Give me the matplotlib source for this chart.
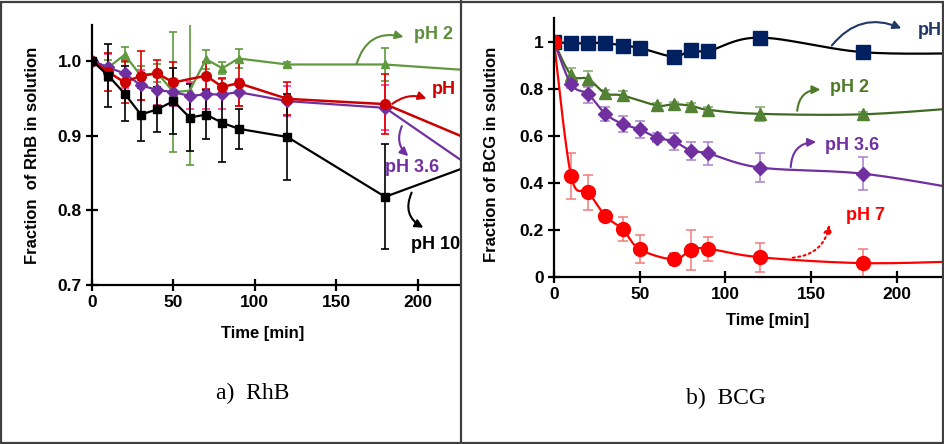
import numpy as np
import matplotlib.pyplot as plt
from matplotlib.patches import Rectangle
from matplotlib.lines import Line2D

plt.rcParams['font.family'] = ['Liberation Sans', 'DejaVu Sans']

# ---------------- RhB (left panel) ----------------
t_rhb = [0, 10, 20, 30, 40, 50, 60, 70, 80, 90, 120, 180, 240]
rhb_ph10 = [1.0, 0.980, 0.956, 0.928, 0.935, 0.946, 0.924, 0.928, 0.917, 0.909, 0.898, 0.818, 0.866]
rhb_ph10_err = [0, 0.042, 0.037, 0.036, 0.030, 0.044, 0.045, 0.033, 0.052, 0.027, 0.057, 0.070, 0]
rhb_ph2 = [1.0, 0.991, 1.008, 0.980, 0.984, 0.958, 0.960, 1.002, 0.990, 1.003, 0.995, 0.995, 0.986]
rhb_ph2_err = [0, 0.010, 0.010, 0.013, 0.012, 0.080, 0.100, 0.013, 0.008, 0.013, 0.003, 0.022, 0]
t_rhb_red = [0, 10, 20, 30, 40, 50, 70, 80, 90, 120, 180, 240]
rhb_ph = [1.0, 0.985, 0.971, 0.980, 0.983, 0.971, 0.980, 0.965, 0.970, 0.949, 0.942, 0.887]
rhb_ph_err = [0, 0.025, 0.028, 0.033, 0.018, 0.027, 0.018, 0.012, 0.030, 0.022, 0.040, 0]
rhb_ph36 = [1.0, 0.991, 0.983, 0.967, 0.961, 0.958, 0.953, 0.955, 0.955, 0.958, 0.946, 0.937, 0.847]
rhb_ph36_err = [0, 0.018, 0.020, 0.020, 0.020, 0.018, 0.018, 0.020, 0.020, 0.018, 0.020, 0.030, 0]

# ---------------- BCG (right panel) ----------------
t_blue = [0, 10, 20, 30, 40, 50, 70, 80, 90, 120, 180, 240]
bcg_ph = [1.0, 0.992, 0.994, 0.994, 0.983, 0.973, 0.936, 0.965, 0.960, 1.017, 0.955, 0.950]
t_green = [0, 10, 20, 30, 40, 60, 70, 80, 90, 120, 180, 240]
bcg_ph2 = [1.0, 0.858, 0.841, 0.780, 0.771, 0.729, 0.734, 0.727, 0.710, 0.693, 0.691, 0.720]
bcg_ph2_err = [0, 0.030, 0.035, 0.015, 0.020, 0.010, 0.010, 0.010, 0.010, 0.030, 0.010, 0]
t_purple = [0, 10, 20, 30, 40, 50, 60, 70, 80, 90, 120, 180, 240]
bcg_ph36 = [1.0, 0.819, 0.776, 0.693, 0.650, 0.627, 0.592, 0.576, 0.535, 0.525, 0.465, 0.439, 0.370]
bcg_ph36_err = [0, 0.015, 0.035, 0.030, 0.035, 0.035, 0.020, 0.035, 0.040, 0.050, 0.060, 0.070, 0]
t_red = [0, 10, 20, 30, 40, 50, 70, 80, 90, 120, 180, 240]
bcg_ph7 = [1.0, 0.429, 0.360, 0.259, 0.203, 0.118, 0.075, 0.116, 0.120, 0.084, 0.059, 0.067]
bcg_ph7_err = [0, 0.097, 0.075, 0, 0.050, 0.060, 0.025, 0.085, 0.050, 0.062, 0.062, 0]


def smooth(x, y, n=25):
    # Bezier smoothing like a spreadsheet "smoothed line"
    p = np.column_stack([x, y]).astype(float)
    p = np.vstack([p[0], p, p[-1]])
    segs = []
    t = np.linspace(0, 1, n)[:, None]
    for i in range(1, len(p) - 2):
        p0, p1, p2, p3 = p[i - 1], p[i], p[i + 1], p[i + 2]
        c1 = p1 + (p2 - p0) / 6
        c2 = p2 - (p3 - p1) / 6
        segs.append((1 - t) ** 3 * p1 + 3 * (1 - t) ** 2 * t * c1
                    + 3 * (1 - t) * t ** 2 * c2 + t ** 3 * p2)
    s = np.vstack(segs)
    return s[:, 0], s[:, 1]


fig = plt.figure(figsize=(9.45, 4.44), dpi=100)

# ---------- left ----------
ax1 = fig.add_axes([0.0974, 0.358, 0.3894, 0.586])
green_l, red_l, purple_l = '#5f9a3e', '#cc0000', '#7030a0'

ax1.errorbar(t_rhb[1:-1], rhb_ph2[1:-1], yerr=rhb_ph2_err[1:-1], fmt='none',
             ecolor=green_l, elinewidth=1.2, capsize=3, capthick=1.2)
ax1.errorbar(t_rhb[1:-1], rhb_ph36[1:-1], yerr=rhb_ph36_err[1:-1], fmt='none',
             ecolor='#ff3399', elinewidth=1.2, capsize=3, capthick=1.2)
ax1.errorbar(t_rhb_red[1:-1], rhb_ph[1:-1], yerr=rhb_ph_err[1:-1], fmt='none',
             ecolor='#e00000', elinewidth=1.2, capsize=3, capthick=1.2)
ax1.errorbar(t_rhb[1:-1], rhb_ph10[1:-1], yerr=rhb_ph10_err[1:-1], fmt='none',
             ecolor='black', elinewidth=1.2, capsize=3, capthick=1.2)

ax1.plot(t_rhb, rhb_ph2, color=green_l, lw=1.6, marker='^', ms=6)
ax1.plot(t_rhb, rhb_ph36, color=purple_l, lw=1.6, marker='D', ms=6)
ax1.plot(t_rhb_red, rhb_ph, color=red_l, lw=1.8, marker='o', ms=7)
ax1.plot(t_rhb, rhb_ph10, color='black', lw=1.6, marker='s', ms=6)

ax1.set_xlim(0, 226)
ax1.set_ylim(0.7, 1.048)
ax1.set_xticks([0, 50, 100, 150, 200])
ax1.set_yticks([0.7, 0.8, 0.9, 1.0])
ax1.set_yticklabels(['0.7', '0.8', '0.9', '1.0'])

# ---------- right ----------
ax2 = fig.add_axes([0.5862, 0.3761, 0.4138, 0.5833])
navy, green_r, purple_r, red_r = '#002060', '#548235', '#7030a0', '#ff0000'

ax2.errorbar(t_green[1:-1], bcg_ph2[1:-1], yerr=bcg_ph2_err[1:-1], fmt='none',
             ecolor='#7fa865', elinewidth=1.1, capsize=3.5, capthick=1.1)
ax2.errorbar(t_purple[1:-1], bcg_ph36[1:-1], yerr=bcg_ph36_err[1:-1], fmt='none',
             ecolor='#a880cc', elinewidth=1.1, capsize=3.5, capthick=1.1)
ax2.errorbar(t_red[1:-1], bcg_ph7[1:-1], yerr=bcg_ph7_err[1:-1], fmt='none',
             ecolor='#f07a7a', elinewidth=1.1, capsize=3.5, capthick=1.1)

for tt, yy, c, m, ms, lc in [
        (t_blue, bcg_ph, navy, 's', 10, 'black'),
        (t_green, bcg_ph2, green_r, '^', 9, '#3f6b22'),
        (t_purple, bcg_ph36, purple_r, 'D', 7, purple_r),
        (t_red, bcg_ph7, red_r, 'o', 10, red_r)]:
    sx, sy = smooth(tt, yy)
    ax2.plot(sx, sy, color=lc, lw=1.6)
    ax2.plot(tt, yy, ls='none', marker=m, ms=ms, color=c)

ax2.set_xlim(0, 228)
ax2.set_ylim(0, 1.1)
ax2.set_xticks([0, 50, 100, 150, 200])
ax2.set_yticks([0, 0.2, 0.4, 0.6, 0.8, 1.0])
ax2.set_yticklabels(['0', '0.2', '0.4', '0.6', '0.8', '1'])

for ax in (ax1, ax2):
    ax.spines['top'].set_visible(False)
    ax.spines['right'].set_visible(False)
    for s in ('left', 'bottom'):
        ax.spines[s].set_linewidth(1.6)
    ax.tick_params(direction='inout', length=8, width=1.6, labelsize=12.5)
    for lab in ax.get_xticklabels() + ax.get_yticklabels():
        lab.set_fontweight('bold')

# axis titles
fig.text(263 / 945, 1 - 333 / 444, 'Time [min]', ha='center', va='center',
         fontsize=12, fontweight='bold')
fig.text(768 / 945, 1 - 320 / 444, 'Time [min]', ha='center', va='center',
         fontsize=12, fontweight='bold')
fig.text(33 / 945, 1 - 155 / 444, 'Fraction  of RhB in solution', rotation=90,
         ha='center', va='center', fontsize=12, fontweight='bold')
fig.text(492 / 945, 1 - 154 / 444, 'Fraction of BCG in solution', rotation=90,
         ha='center', va='center', fontsize=12, fontweight='bold')

# curved arrows with labels
def label(ax, text, xy_tail, xy_head, xy_text, color, rad, ls='-'):
    ax.annotate('', xy=xy_head, xytext=xy_tail, annotation_clip=False,
                arrowprops=dict(arrowstyle='-|>', color=color, lw=1.5, ls=ls,
                                connectionstyle=f'arc3,rad={rad}',
                                mutation_scale=12))
    ax.text(xy_text[0], xy_text[1], text, color=color, fontsize=13,
            fontweight='bold', va='center', ha='left', clip_on=False)

label(ax1, 'pH 2', (162, 0.992), (193, 1.031), (198, 1.035), '#5e8f3c', -0.5)
label(ax1, 'pH', (183, 0.940), (207, 0.948), (208.6, 0.961), '#cc0000', -0.3)
label(ax1, 'pH 3.6', (191, 0.916), (195.5, 0.870), (180, 0.857), '#7030a0', 0.4)
label(ax1, 'pH 10', (197, 0.827), (205, 0.775), (196, 0.754), 'black', 0.5)

label(ax2, 'pH', (161, 0.974), (204, 1.051), (212, 1.047), '#1f3864', -0.4)
label(ax2, 'pH 2', (141.7, 0.694), (157, 0.796), (161, 0.804), '#4f7a28', -0.5)
label(ax2, 'pH 3.6', (138, 0.455), (154.5, 0.574), (158, 0.557), '#7030a0', -0.5)
label(ax2, 'pH 7', (137.6, 0.081), (161, 0.234), (170, 0.26), '#ff0000', 0.4, ls=':')

# captions
fig.text(253 / 945, 1 - 393 / 444, 'a)  RhB', ha='center', va='center',
         fontsize=17, family=['Liberation Serif', 'DejaVu Serif'])
fig.text(726 / 945, 1 - 398 / 444, 'b)  BCG', ha='center', va='center',
         fontsize=17, family=['Liberation Serif', 'DejaVu Serif'])

# frame around panels
fig.add_artist(Rectangle((1 / 945, 1 / 444), 942 / 945, 441 / 444,
                         transform=fig.transFigure, fill=False,
                         edgecolor='#404040', lw=1.6))
fig.add_artist(Line2D([461 / 945, 461 / 945], [0, 1], transform=fig.transFigure,
                      color='#404040', lw=1.6))

fig.savefig('out.png', dpi=100)
